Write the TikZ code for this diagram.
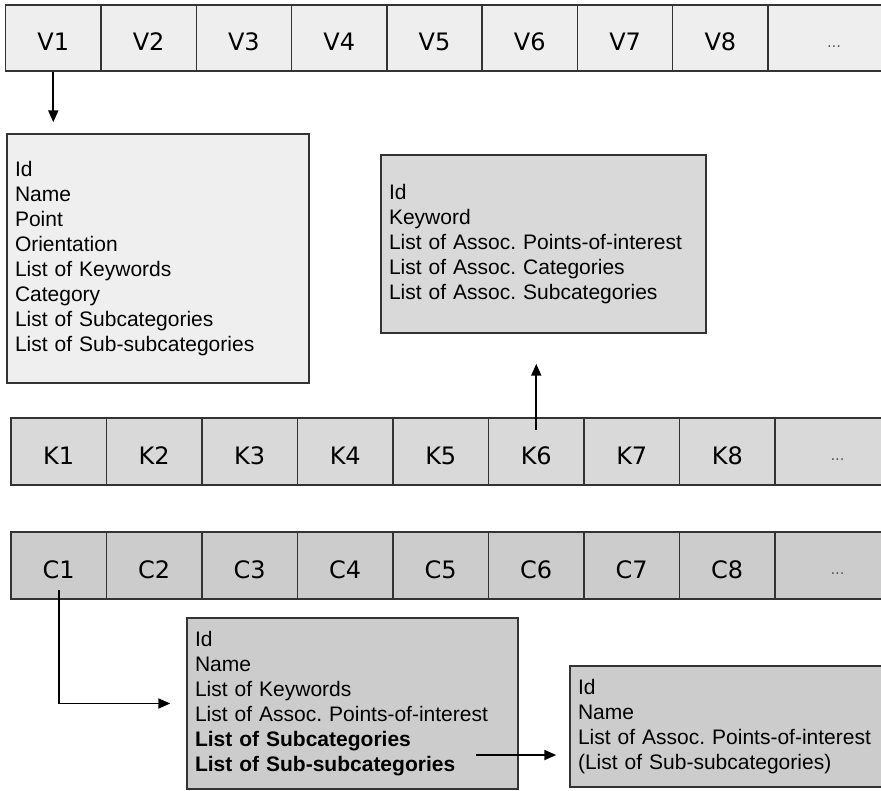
\documentclass[tikz,border=0pt]{standalone}
\usepackage{fontspec}
\setmainfont{Liberation Sans}
\newfontfamily\cellfont{DejaVu Sans}
\usetikzlibrary{arrows.meta}
\frenchspacing

\begin{document}
\begin{tikzpicture}[x=0.75pt,y=0.75pt,yscale=-1,xscale=1,
  cell/.style={draw={rgb, 255:red, 51; green, 51; blue, 51 }, line width=1.1pt, inner sep=0pt, text height=19pt, text depth=0pt, font=\cellfont\fontsize{18}{22}\selectfont},
  vcell/.style={cell, fill={rgb, 255:red, 238; green, 238; blue, 238 }, minimum width=71.5pt, minimum height=49.5pt},
  kcell/.style={cell, fill={rgb, 255:red, 217; green, 217; blue, 217 }, minimum width=71.6pt, minimum height=50.25pt},
  ccell/.style={cell, fill={rgb, 255:red, 204; green, 204; blue, 204 }, minimum width=71.6pt, minimum height=50.25pt},
  dotcell/.style={text={rgb, 255:red, 90; green, 90; blue, 90 }, text height=14pt, font=\cellfont\fontsize{11}{13}\selectfont},
  listbox/.style={draw={rgb, 255:red, 51; green, 51; blue, 51 }, line width=1.1pt, align=left, inner xsep=6pt, inner ysep=0pt, font=\fontsize{15.75}{18.8}\selectfont},
  conn/.style={line width=1.4pt, -{Triangle[length=9pt,width=7.5pt]}}
]
\clip (0,0) rectangle (881,790);

%Shape: Array of points-of-interest
\node [vcell] (v1) at (53.3,38) {V1};
\node [vcell] (v2) at (148.6,38) {V2};
\node [vcell] (v3) at (243.9,38) {V3};
\node [vcell] (v4) at (339.2,38) {V4};
\node [vcell] (v5) at (434.5,38) {V5};
\node [vcell] (v6) at (529.8,38) {V6};
\node [vcell] (v7) at (625.1,38) {V7};
\node [vcell] (v8) at (720.4,38) {V8};
\node [vcell, dotcell, minimum width=99pt] (vdots) at (834,38) {...};

%Shape: Array of keywords
\node [kcell] (k1) at (58.75,451.5) {K1};
\node [kcell] (k2) at (154.25,451.5) {K2};
\node [kcell] (k3) at (249.75,451.5) {K3};
\node [kcell] (k4) at (345.25,451.5) {K4};
\node [kcell] (k5) at (440.75,451.5) {K5};
\node [kcell] (k6) at (536.25,451.5) {K6};
\node [kcell] (k7) at (631.75,451.5) {K7};
\node [kcell] (k8) at (727.25,451.5) {K8};
\node [kcell, dotcell, minimum width=93.75pt] (kdots) at (837.5,451.5) {...};

%Shape: Array of categories
\node [ccell] (c1) at (58.75,565.5) {C1};
\node [ccell] (c2) at (154.25,565.5) {C2};
\node [ccell] (c3) at (249.75,565.5) {C3};
\node [ccell] (c4) at (345.25,565.5) {C4};
\node [ccell] (c5) at (440.75,565.5) {C5};
\node [ccell] (c6) at (536.25,565.5) {C6};
\node [ccell] (c7) at (631.75,565.5) {C7};
\node [ccell] (c8) at (727.25,565.5) {C8};
\node [ccell, dotcell, minimum width=93.75pt] (cdots) at (837.5,565.5) {...};

% Text Node
\node [listbox, fill={rgb, 255:red, 239; green, 239; blue, 239 }, text width=214.5pt, minimum height=186.75pt] (poi) at (158,258.5) {Id\\
Name\\
Point\\
Orientation\\
List of Keywords\\
Category\\
List of Subcategories\\
List of Sub-subcategories};
% Text Node
\node [listbox, fill={rgb, 255:red, 217; green, 217; blue, 217 }, text width=231.75pt, minimum height=133.5pt] (kw) at (543.5,244) {Id\\
Keyword\\
List of Assoc. Points-of-interest\\
List of Assoc. Categories\\
List of Assoc. Subcategories};
% Text Node
\node [listbox, fill={rgb, 255:red, 204; green, 204; blue, 204 }, text width=236.25pt, minimum height=128.25pt] (cat) at (352.5,703.5) {Id\\
Name\\
List of Keywords\\
List of Assoc. Points-of-interest\\
\textbf{List of Subcategories}\\
\textbf{List of Sub-subcategories}};
% Text Node
\node [listbox, fill={rgb, 255:red, 204; green, 204; blue, 204 }, text width=235.5pt, minimum height=90.75pt] (sub) at (735,726.5) {Id\\
Name\\
List of Assoc. Points-of-interest\\
(List of Sub-subcategories)};

%Straight Lines
\draw [conn, shorten >=8.25pt] (v1.south) -- (v1.south |- poi.north);
\draw [conn, shorten <=16pt, shorten >=22.5pt] (k6.center) -- (k6.center |- kw.south);
\draw [conn, shorten <=18.4pt, shorten >=12pt] (c1.center) |- (cat.west);
\coordinate (subout) at (476,755);
\draw [conn, shorten >=9.75pt] (subout) -- (subout -| sub.west);

\end{tikzpicture}
\end{document}
